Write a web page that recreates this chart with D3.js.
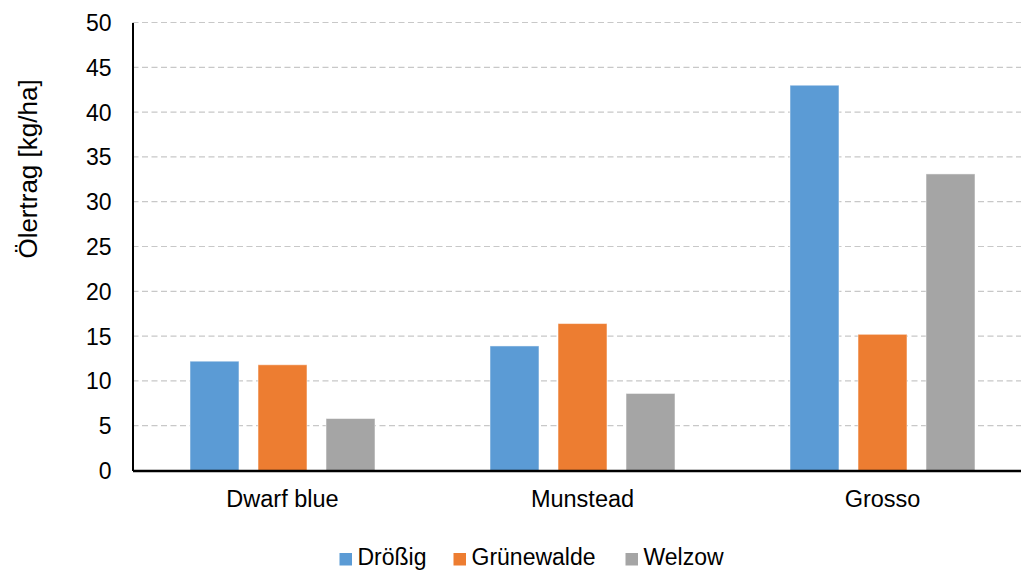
<!DOCTYPE html>
<html>
<head>
<meta charset="utf-8">
<script src="https://cdn.jsdelivr.net/npm/d3@7"></script>
<style>
  body { margin: 0; background: #fff; }
  svg text { font-family: "Liberation Sans", Arial, sans-serif; fill: #000; }
</style>
</head>
<body>
<div id="chart"></div>
<script>
var categories = ["Dwarf blue", "Munstead", "Grosso"];
var seriesNames = ["Drößig", "Grünewalde", "Welzow"];
var droessig = [12.2, 13.9, 43.0];
var gruenewalde = [11.8, 16.4, 15.2];
var welzow = [5.8, 8.6, 33.1];
var yTicks = [0, 5, 10, 15, 20, 25, 30, 35, 40, 45, 50];
var colors = ["#5B9BD5", "#ED7D31", "#A5A5A5"];

var width = 1021;
var height = 570;
var margin = {top: 22.5, right: -11.5, bottom: 99.5, left: 132.5};
var innerW = width - margin.left - margin.right;
var innerH = height - margin.top - margin.bottom;

var series = [droessig, gruenewalde, welzow];

var x = d3.scaleBand().domain(categories).range([0, innerW]).paddingInner(0).paddingOuter(0);
var x1 = d3.scaleBand().domain(seriesNames).range([x.bandwidth() * 0.1917, x.bandwidth() * 0.8083]).paddingInner(0.28).paddingOuter(0);
var y = d3.scaleLinear().domain([0, 50]).range([innerH, 0]);

var svg = d3.select('#chart')
    .append('svg')
    .attr('width', width)
    .attr('height', height);
var g = svg.append('g')
    .attr('transform', 'translate(' + margin.left + ',' + margin.top + ')');

// grid lines
g.selectAll('.grid')
    .data(yTicks.filter(function (d) { return d > 0; }))
    .enter().append('line')
    .attr('x1', 0)
    .attr('x2', innerW)
    .attr('y1', function (d) { return y(d); })
    .attr('y2', function (d) { return y(d); })
    .attr('stroke', '#C8C8C8')
    .attr('stroke-width', 1.2)
    .attr('stroke-dasharray', '6,3.5');

// bars
categories.forEach(function (cat, ci) {
    var grp = g.append('g').attr('transform', 'translate(' + x(cat) + ',0)');
    seriesNames.forEach(function (s, si) {
	grp.append('rect')
	    .attr('x', x1(s))
	    .attr('y', y(series[si][ci]))
	    .attr('width', x1.bandwidth())
	    .attr('height', innerH - y(series[si][ci]))
	    .attr('fill', colors[si])
	    .attr('stroke', '#fff')
	    .attr('stroke-opacity', 0.5)
	    .attr('stroke-width', 1);
    });
});

// y axis
var yAxis = d3.axisLeft(y).tickValues(yTicks).tickSize(0).tickPadding(21);
var ya = g.append('g').call(yAxis);
ya.select('.domain').attr('stroke', '#000').attr('stroke-width', 2);
ya.selectAll('text').style('font-size', '23px').attr('dy', '0.35em');

// x axis
var xAxis = d3.axisBottom(x).tickSize(0).tickPadding(20);
var xa = g.append('g').attr('transform', 'translate(0,' + innerH + ')').call(xAxis);
xa.select('.domain').attr('stroke', '#000').attr('stroke-width', 2.5);
xa.selectAll('text').style('font-size', '23.5px');

// y label
svg.append('text')
    .attr('transform', 'translate(37,169) rotate(-90)')
    .attr('text-anchor', 'middle')
    .style('font-size', '26px')
    .text('Ölertrag [kg/ha]');

// legend
var legend = svg.append('g').attr('transform', 'translate(0,565)');
var lx = [339.5, 453.5, 625.5];
seriesNames.forEach(function (s, i) {
    legend.append('rect')
	.attr('x', lx[i])
	.attr('y', -12)
	.attr('width', 12.5)
	.attr('height', 12.5)
	.attr('fill', colors[i]);
    legend.append('text')
	.attr('x', lx[i] + 18)
	.attr('y', 0)
	.style('font-size', '23px')
	.text(s);
});
</script>
</body>
</html>
